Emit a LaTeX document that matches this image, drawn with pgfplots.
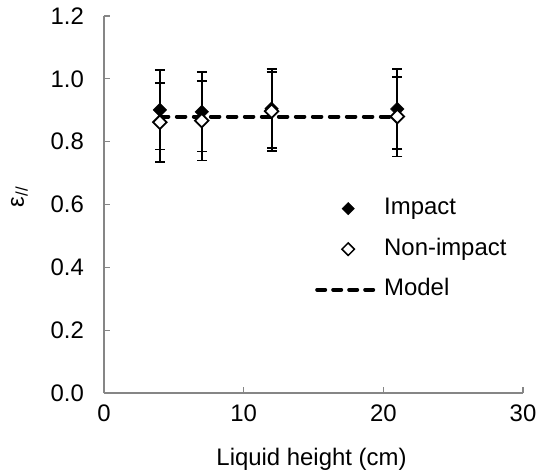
\documentclass[border=0pt]{standalone}
\usepackage{fontspec}
\setmainfont{Liberation Sans}
\usepackage{pgfplots}
\pgfplotsset{compat=1.18}
\definecolor{axisgray}{HTML}{868686}
\begin{document}
\fontsize{24}{28}\selectfont
\begin{tikzpicture}
\useasboundingbox (-104bp,-81bp) rectangle (446bp,393bp);
\begin{axis}[
  scale only axis, width=419bp, height=377bp,
  xmin=0, xmax=30, ymin=0, ymax=1.2,
  axis x line*=bottom, axis y line*=left,
  axis line style={-, axisgray, line width=1.3bp},
  xtick={0,10,20,30}, ytick={0,0.2,0.4,0.6,0.8,1.0,1.2},
  tick align=inside, major tick length=6bp,
  tick style={axisgray, line width=1.3bp},
  /pgf/number format/assume math mode=true,
  yticklabel style={/pgf/number format/.cd, fixed, fixed zerofill, precision=1, /tikz/.cd, inner sep=0pt, anchor=east, xshift=-20bp},
  xticklabel style={inner sep=0pt, anchor=north, yshift=-12bp},
  xlabel={Liquid height (cm)},
  xlabel style={at={([xshift=-2bp,yshift=-72bp]axis description cs:0.5,0)}, anchor=base, inner sep=0pt},
  ylabel={ε\textsubscript{//}},
  ylabel style={at={([xshift=-80bp]axis description cs:0,0.52)}, anchor=base, inner sep=0pt},
  legend image code/.code={\draw[mark repeat=2,mark phase=2,#1] plot coordinates {(0bp,0bp) (31bp,0bp) (62bp,0bp)};},
  legend style={draw=none, fill=none, at={(0.5036,0.5186)}, anchor=north west, inner sep=0pt, row sep=18.5bp,
    nodes={inner sep=0pt, text height=17bp, text depth=5bp},
    /tikz/every odd column/.append style={column sep=3bp}},
  legend cell align=left,
]
% legend entries
\addlegendimage{only marks, mark=square*, mark size=4.4bp, mark options={rotate=45, fill=black, draw=black}}
\addlegendentry{Impact}
\addlegendimage{only marks, mark=square*, mark size=4.4bp, mark options={rotate=45, fill=white, draw=black, line width=1.5bp}}
\addlegendentry{Non-impact}
\addlegendimage{black, line width=4bp, dash pattern=on 8bp off 8bp, line cap=round}
\addlegendentry{Model}

% model prediction
\addplot[forget plot, black, line width=4bp, dash pattern=on 8.5bp off 8.5bp, line cap=round]
  coordinates {(4,0.88) (21,0.88)};

% impact measurements
\addplot[forget plot, only marks, mark=square*, mark size=4.8bp,
  mark options={rotate=45, fill=black, draw=black},
  error bars/.cd, y dir=both, y explicit,
  error bar style={black, line width=1.9bp},
  error mark options={rotate=90, black, mark size=5bp, line width=1.8bp}]
  coordinates {
    (4,0.901)  +- (0,0.126)
    (7,0.895)  +- (0,0.126)
    (12,0.905) +- (0,0.126)
    (21,0.904) +- (0,0.128)
  };

% non-impact measurements
\addplot[forget plot, only marks, mark=square*, mark size=4.8bp,
  mark options={rotate=45, fill=white, draw=black, line width=1.8bp},
  error bars/.cd, y dir=both, y explicit,
  error bar style={black, line width=1.9bp},
  error mark options={rotate=90, black, mark size=5bp, line width=1.8bp}]
  coordinates {
    (4,0.862)  +- (0,0.126)
    (7,0.867)  +- (0,0.127)
    (12,0.897) +- (0,0.126)
    (21,0.880) +- (0,0.127)
  };
\end{axis}
\end{tikzpicture}
\end{document}
